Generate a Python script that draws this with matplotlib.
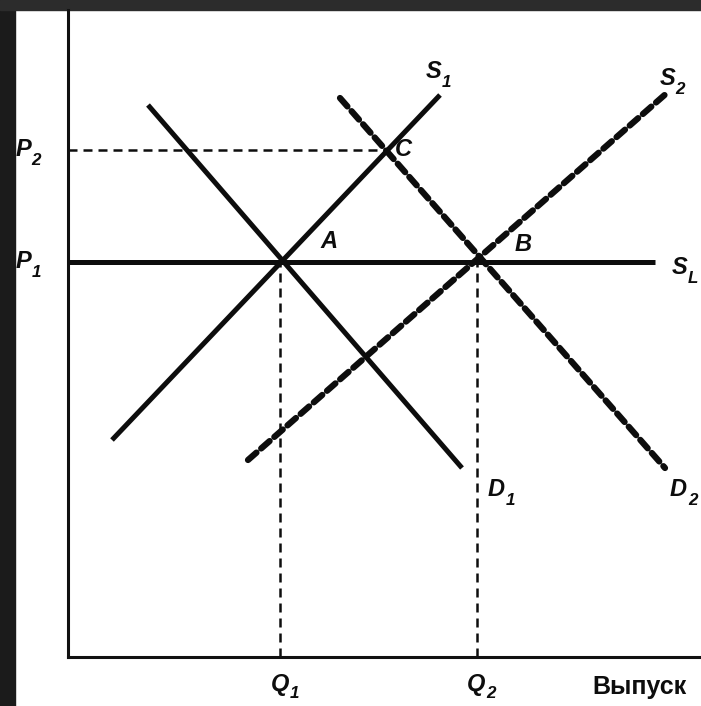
import matplotlib.pyplot as plt
from matplotlib.patches import Rectangle

# equilibrium points (quantity, price) in chart units
q_a = 21.2
q_b = 40.9
q_c = 31.9
p_1 = 39.5
p_2 = 50.7

# curves: endpoints (quantity, price)
d1_q = [8.0, 39.4]
d1_p = [55.2, 18.9]
s1_q = [4.4, 37.2]
s1_p = [21.7, 56.2]
s2_q = [18.0, 60.0]
s2_p = [19.7, 56.5]
d2_q = [27.2, 59.7]
d2_p = [55.9, 18.9]
sl_q = [0.0, 58.7]

W, H = 701, 706
fig = plt.figure(figsize=(W / 100, H / 100), dpi=100, facecolor="white")

# dark frame at the top and left of the scan
fig.patches.append(Rectangle((0, 0), 15 / W, 1, transform=fig.transFigure,
                             color="#1b1b1b", zorder=-5))
fig.patches.append(Rectangle((0, 1 - 10 / H), 1, 10 / H, transform=fig.transFigure,
                             color="#2c2c2c", zorder=-5))

ax = fig.add_axes([68 / W, 49 / H, 633 / W, 647 / H])
ax.set_xlim(0, 63.3)
ax.set_ylim(0, 64.7)
ax.patch.set_alpha(0)
for side in ["top", "right"]:
    ax.spines[side].set_visible(False)
for side in ["left", "bottom"]:
    ax.spines[side].set_linewidth(2.2)
    ax.spines[side].set_color("#111111")
ax.set_xticks([])
ax.set_yticks([])

ink = "#0d0d0d"
solid = dict(color=ink, lw=3.6, solid_capstyle="butt")
thick_dash = dict(color=ink, lw=4.5, dashes=(1.8, 1.0), dash_capstyle="round")
thin_dash = dict(color=ink, lw=1.8, dashes=(3.6, 2.4))

# guide lines
ax.plot([0, q_c], [p_2, p_2], **thin_dash)
ax.plot([q_a, q_a], [0, p_1], **thin_dash)
ax.plot([q_b, q_b], [0, p_1], **thin_dash)

# curves
ax.plot(sl_q, [p_1, p_1], **solid)
ax.plot(d1_q, d1_p, **solid)
ax.plot(s1_q, s1_p, **solid)
ax.plot(s2_q, s2_p, **thick_dash)
ax.plot(d2_q, d2_p, **thick_dash)

font = dict(family="Liberation Sans", weight="bold", style="italic",
            color=ink, annotation_clip=False)


def label(x, y, main, sub=None, size=17, drop=0.45, gap=0.66):
    ax.annotate(main, (x, y), ha="left", va="center", fontsize=size, **font)
    if sub:
        ax.annotate(sub, (x, y), xytext=(size * gap, -size * drop),
                    textcoords="offset points", ha="left", va="center",
                    fontsize=size * 0.72, **font)


label(-5.2, p_2, "P", "2")
label(-5.2, p_1, "P", "1")
label(q_a - 0.9, -2.8, "Q", "1", drop=0.35, gap=0.8)
label(q_b - 1.0, -2.8, "Q", "2", drop=0.35, gap=0.8)
label(q_c + 0.8, p_2, "C")
label(q_a + 4.0, p_1 + 2.0, "A")
label(q_b + 3.8, p_1 + 1.7, "B")
label(35.8, 58.5, "S", "1")
label(59.2, 57.8, "S", "2")
label(60.4, p_1 - 0.6, "S", "L")
label(42.0, 16.7, "D", "1", gap=0.76)
label(60.2, 16.7, "D", "2", gap=0.76)

ax.annotate("Выпуск", (57.1, -3.0), ha="center", va="center", fontsize=18,
            family="Liberation Sans", weight="bold", color=ink,
            annotation_clip=False)

fig.savefig("out.png", dpi=100, facecolor=fig.get_facecolor())
